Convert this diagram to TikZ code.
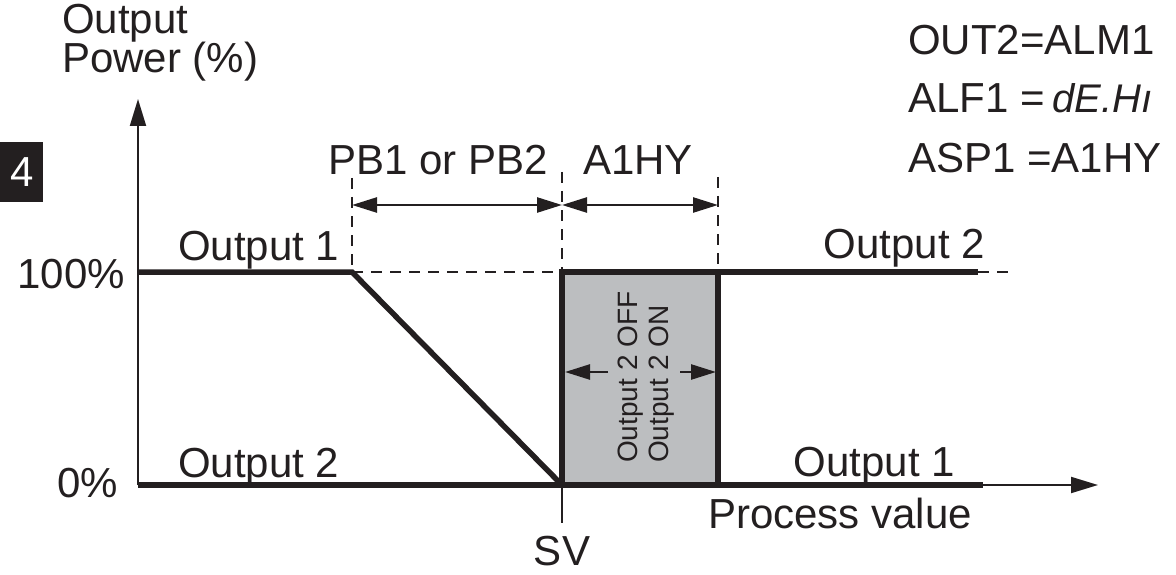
\documentclass[tikz,border=0pt]{standalone}
\usepackage{fontspec}
\setmainfont{Liberation Sans}
\usetikzlibrary{positioning, arrows.meta}
\definecolor{ink}{RGB}{35, 31, 32}
\definecolor{bandgray}{RGB}{188, 190, 192}

\begin{document}
\begin{tikzpicture}[
    x=1pt, y=-1pt,
    lbl/.style={
        font=\fontsize{42}{48}\selectfont,
        text=ink,
        inner sep=0pt
    },
    sidelbl/.style={
        font=\fontsize{28}{32}\selectfont,
        text=ink,
        inner sep=0pt,
        rotate=90,
        anchor=base west
    },
    curve/.style={draw=ink, line width=5.5pt, line join=miter},
    axisline/.style={draw=ink, line width=2pt, -{Triangle[length=27pt, width=16pt]}},
    guide/.style={draw=ink, line width=1.5pt, dash pattern=on 11pt off 8pt},
    dimline/.style={draw=ink, line width=2.5pt,
        {Triangle[length=25pt, width=15pt]}-{Triangle[length=25pt, width=15pt]}},
    halfdim/.style={draw=ink, line width=2.5pt, -{Triangle[length=25pt, width=15pt]}}
]
\useasboundingbox (0,0) rectangle (1176,575);

% === Points ===
\coordinate (o) at (138,485);
\coordinate (ytip) at (138,99);
\coordinate (xtip) at (1098,485);
\coordinate (hi) at (138,272);
\coordinate (knee) at (352,272);
\coordinate (sv) at (562,485);
\coordinate (svtop) at (562,272);
\coordinate (hylo) at (718,485);
\coordinate (hyhi) at (718,272);
\coordinate (hiend) at (978,272);
\coordinate (dashend) at (1010,272);
\coordinate (loend) at (983,485);
\coordinate (svtick) at (562,523);
\coordinate (kneeup) at (352,178);
\coordinate (svup) at (562,172);
\coordinate (hyup) at (718,177);
\coordinate (dimL) at (352,205);
\coordinate (dimM) at (562,205);
\coordinate (dimR) at (718,205);
\coordinate (inL) at (608,372);
\coordinate (inLtip) at (565,372);
\coordinate (inR) at (680,372);
\coordinate (inRtip) at (716,372);

% === Hysteresis band ===
\fill[bandgray] (sv) rectangle (hyhi);

% === Guides ===
\draw[guide] (knee) -- (svtop);
\draw[guide] (hiend) -- (dashend);
\draw[guide] (kneeup) -- (knee);
\draw[guide] (svup) -- (sv);
\draw[guide] (hyup) -- (hyhi);

% === Axes ===
\draw[axisline] (o) -- (ytip);
\draw[axisline] (o) -- (xtip);
\draw[draw=ink, line width=2pt] (sv) -- (svtick);

% === Output curves ===
\draw[curve] (hi) -- (knee) -- (sv);
\draw[curve] (o) -- (loend);
\draw[curve] (sv) -- (svtop) -- (hiend);
\draw[curve] (hylo) -- (hyhi);

% === Dimension arrows ===
\draw[dimline] (dimL) -- (dimM);
\draw[dimline] (dimM) -- (dimR);
\draw[halfdim] (inL) -- (inLtip);
\draw[halfdim] (inR) -- (inRtip);

% === Labels ===
\node[lbl, anchor=base west] (ylbl1) at (62,34) {Output};
\node[lbl, anchor=base west] (ylbl2) at (62,73) {Power (\%)};
\node[lbl, anchor=base east] (pct100) at (125,288) {100\%};
\node[lbl, anchor=base east] (pct0) at (118,497) {0\%};
\node[lbl, anchor=base west] (out1a) at (178,260) {Output 1};
\node[lbl, anchor=base west] (out2a) at (178,477) {Output 2};
\node[lbl, anchor=base east] (out2b) at (985,258) {Output 2};
\node[lbl, anchor=base east] (out1b) at (955,476) {Output 1};
\node[lbl, anchor=base west] (pb) at (328,175) {PB1 or PB2};
\node[lbl, anchor=base west] (hy) at (583,175) {A1HY};
\node[lbl, anchor=base west] (pv) at (708,528) {Process value};
\node[lbl, anchor=base] (svlbl) at (562,565) {SV};
\node[sidelbl] (off) at (637,463) {Output 2 OFF};
\node[sidelbl] (on) at (668,463) {Output 2 ON};

% === Settings ===
\node[lbl, anchor=base west] (set1) at (908,55) {OUT2=ALM1};
\node[lbl, anchor=base west] (set2) at (908,113) {ALF1 =};
\node[lbl, anchor=base west, font=\fontsize{40}{48}\selectfont\itshape] (set2v) at (1052,113) {dE.Hı};
\node[lbl, anchor=base west] (set3) at (908,173) {ASP1 =A1HY};

% === Page tab ===
\node[fill=ink, minimum width=43pt, minimum height=60pt, inner sep=0pt,
      anchor=north west, text=white, font=\fontsize{42}{48}\selectfont] (tab) at (0,142) {4};

\end{tikzpicture}
\end{document}
